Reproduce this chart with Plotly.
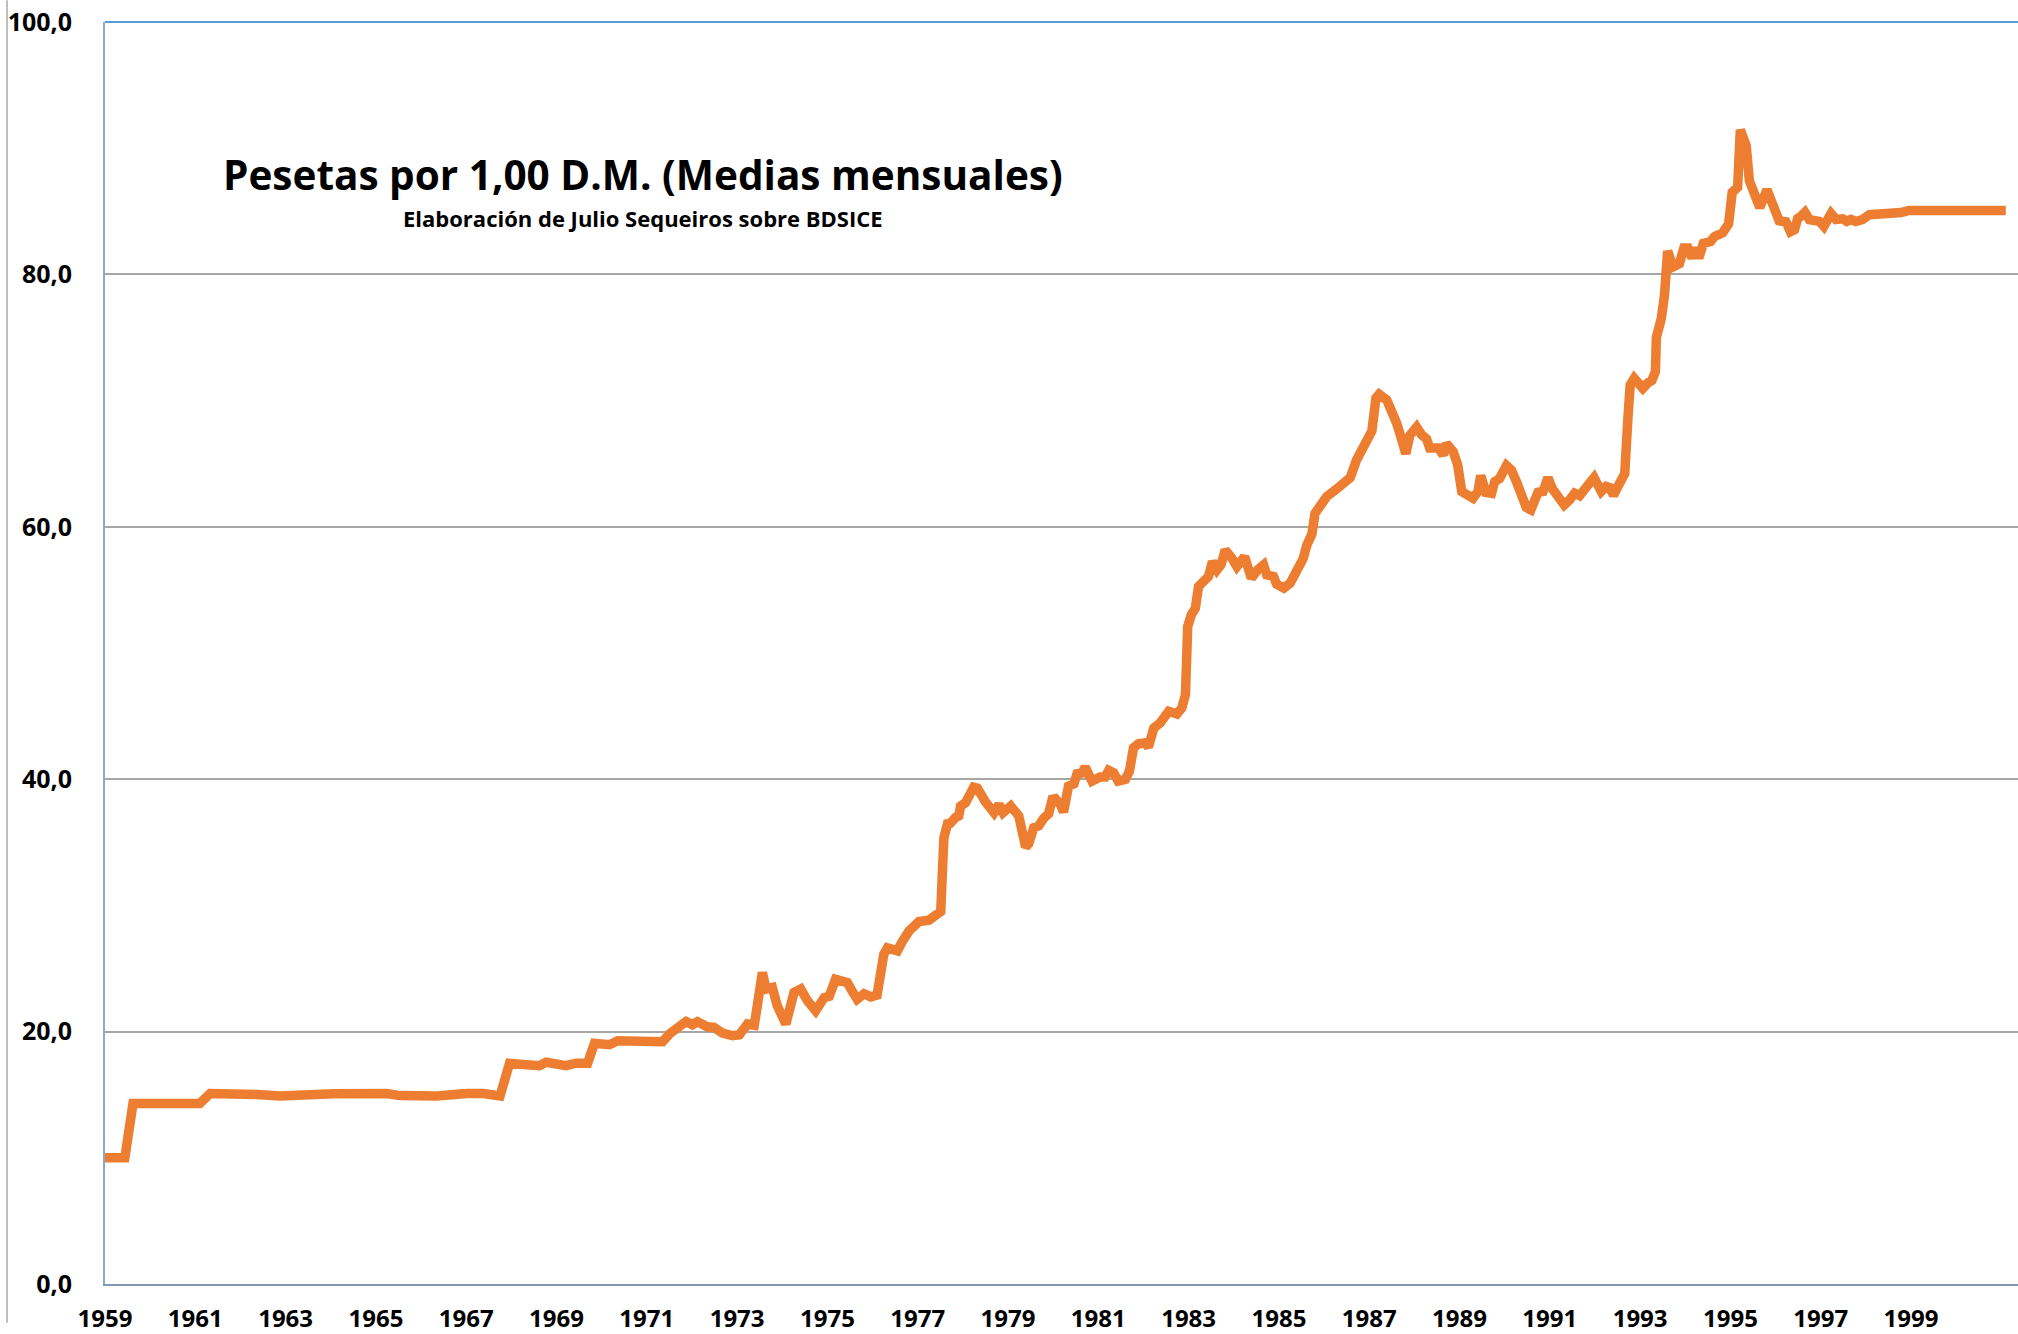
import plotly.graph_objects as go

# ---- data (decimal year, pesetas per 1 DM) ----
years = [
    1959.00, 1959.44, 1959.62, 1961.10, 1961.33, 1961.84, 1962.36, 1962.88, 1963.32,
    1964.06, 1965.24, 1965.53, 1966.35, 1966.64, 1967.01, 1967.38, 1967.75, 1967.96,
    1968.62, 1968.77, 1969.00, 1969.21, 1969.43, 1969.69, 1969.84, 1970.17, 1970.36,
    1970.91, 1970.98, 1971.35, 1971.50, 1971.72, 1971.87, 1972.01, 1972.12, 1972.34,
    1972.49, 1972.68, 1972.90, 1973.05, 1973.23, 1973.38, 1973.56, 1973.64, 1973.78,
    1973.89, 1974.08, 1974.26, 1974.41, 1974.56, 1974.74, 1974.93, 1975.04, 1975.18,
    1975.44, 1975.55, 1975.66, 1975.81, 1975.96, 1976.10, 1976.25, 1976.33, 1976.55,
    1976.66, 1976.81, 1977.03, 1977.25, 1977.51, 1977.58, 1977.66, 1977.72, 1977.84,
    1977.91, 1977.95, 1978.06, 1978.24, 1978.32, 1978.50, 1978.69, 1978.80, 1978.89,
    1979.06, 1979.24, 1979.39, 1979.46, 1979.57, 1979.68, 1979.79, 1979.90, 1979.98,
    1980.05, 1980.16, 1980.23, 1980.34, 1980.46, 1980.53, 1980.64, 1980.71, 1980.86,
    1981.04, 1981.15, 1981.23, 1981.34, 1981.44, 1981.60, 1981.69, 1981.78, 1981.89,
    1982.04, 1982.11, 1982.23, 1982.37, 1982.56, 1982.74, 1982.85, 1982.93, 1982.98,
    1983.06, 1983.15, 1983.22, 1983.33, 1983.44, 1983.53, 1983.63, 1983.72, 1983.81,
    1983.96, 1984.07, 1984.24, 1984.39, 1984.53, 1984.66, 1984.73, 1984.88, 1984.95,
    1985.11, 1985.25, 1985.39, 1985.54, 1985.62, 1985.73, 1985.80, 1985.91, 1986.06,
    1986.35, 1986.58, 1986.72, 1986.86, 1986.98, 1987.06, 1987.15, 1987.22, 1987.39,
    1987.50, 1987.61, 1987.72, 1987.81, 1987.90, 1988.05, 1988.16, 1988.27, 1988.34,
    1988.53, 1988.64, 1988.71, 1988.86, 1988.96, 1989.05, 1989.30, 1989.41, 1989.47,
    1989.58, 1989.71, 1989.78, 1989.89, 1990.04, 1990.15, 1990.26, 1990.37, 1990.48,
    1990.58, 1990.67, 1990.74, 1990.85, 1990.96, 1991.05, 1991.18, 1991.32, 1991.44,
    1991.55, 1991.66, 1991.77, 1991.88, 1991.98, 1992.14, 1992.25, 1992.33, 1992.41,
    1992.51, 1992.66, 1992.73, 1992.78, 1992.87, 1993.06, 1993.17, 1993.26, 1993.34,
    1993.36, 1993.47, 1993.54, 1993.61, 1993.73, 1993.87, 1993.97, 1994.06, 1994.15,
    1994.23, 1994.30, 1994.40, 1994.56, 1994.65, 1994.83, 1994.96, 1995.04, 1995.16,
    1995.22, 1995.29, 1995.35, 1995.42, 1995.53, 1995.65, 1995.81, 1995.94, 1996.08,
    1996.23, 1996.33, 1996.42, 1996.49, 1996.56, 1996.65, 1996.75, 1996.90, 1996.97,
    1997.07, 1997.16, 1997.23, 1997.34, 1997.49, 1997.58, 1997.67, 1997.78, 1997.93,
    1998.08, 1998.22, 1998.37, 1998.59, 1998.78, 1998.96, 2001.10,
]
pesetas = [
    10.0, 10.0, 14.3, 14.3, 15.1, 14.97, 15.02, 14.9, 15.02,
    15.08, 15.1, 14.93, 14.9, 15.02, 15.1, 15.1, 14.9, 17.48,
    17.3, 17.57, 17.5, 17.3, 17.5, 17.5, 19.07, 18.96, 19.28,
    19.25, 19.1, 19.2, 19.81, 20.54, 20.8, 20.54, 20.78, 20.38,
    20.33, 19.88, 19.67, 19.75, 20.6, 20.5, 24.68, 23.37, 23.5,
    22.05, 20.6, 23.1, 23.37, 22.44, 21.65, 22.7, 22.8, 24.15,
    23.88, 23.2, 22.57, 23.0, 22.75, 22.9, 26.13, 26.63, 26.4,
    27.14, 27.98, 28.72, 28.83, 29.51, 35.36, 36.47, 36.5, 36.97,
    37.1, 37.87, 38.13, 39.37, 39.3, 38.2, 37.35, 38.0, 37.35,
    37.87, 37.08, 34.63, 34.9, 36.16, 36.3, 36.9, 37.27, 38.4,
    38.45, 38.0, 37.4, 39.45, 39.64, 40.43, 40.5, 40.96, 39.85,
    40.17, 40.17, 40.7, 40.5, 39.85, 39.98, 40.64, 42.48, 42.8,
    42.88, 42.55, 44.06, 44.46, 45.38, 45.17, 45.65, 46.7, 52.1,
    53.03, 53.55, 55.27, 55.67, 56.06, 57.25, 56.59, 57.0, 58.17,
    57.5, 56.85, 57.64, 55.93, 56.59, 56.98, 56.19, 56.06, 55.45,
    55.14, 55.53, 56.32, 57.5, 58.56, 59.41, 61.07, 61.6, 62.4,
    63.2, 63.9, 65.3, 66.3, 67.3, 67.6, 70.2, 70.5, 70.04,
    69.25, 68.2, 66.9, 65.8, 67.25, 67.9, 67.3, 66.98, 66.24,
    66.24, 65.7, 66.6, 65.96, 64.9, 62.8, 62.26, 62.8, 64.06,
    62.74, 62.66, 63.58, 63.84, 64.85, 64.5, 63.58, 62.39, 61.53,
    61.34, 62.13, 62.74, 62.8, 63.89, 63.05, 62.39, 61.73, 62.13,
    62.66, 62.47, 63.05, 63.37, 63.9, 62.8, 63.2, 63.1, 62.5,
    63.2, 64.2, 68.6, 71.23, 71.76, 70.97, 71.4, 71.6, 72.3,
    75.0, 76.5, 78.35, 81.85, 80.6, 80.85, 82.1, 82.1, 81.3,
    82.1, 81.3, 82.45, 82.6, 83.0, 83.3, 84.0, 86.5, 86.9,
    91.46, 90.77, 90.2, 87.43, 86.6, 85.3, 86.7, 85.43, 84.25,
    84.17, 83.38, 83.54, 84.43, 84.6, 84.92, 84.33, 84.17, 84.2,
    83.8, 84.6, 84.82, 84.35, 84.4, 84.2, 84.35, 84.2, 84.35,
    84.73, 84.75, 84.93, 84.82, 84.9, 85.07, 85.07,
]

x_tick_years = list(range(1959, 2001, 2))
x_tick_labels = [str(y) for y in x_tick_years]
y_tick_values = [0, 20, 40, 60, 80, 100]
y_tick_labels = ["0,0", "20,0", "40,0", "60,0", "80,0", "100,0"]

title_text = "Pesetas por 1,00 D.M. (Medias mensuales)"
subtitle_text = "Elaboración de Julio Sequeiros sobre BDSICE"

W, H = 2018, 1334
ML, MR, MT, MB = 105, 0, 22, 39
PW, PH = W - ML - MR, H - MT - MB
PX_PER_YEAR = 45.15
x_end = 1959 + PW / PX_PER_YEAR

FONT = "Open Sans"
ORANGE = "#ED7D31"

fig = go.Figure()
fig.add_trace(go.Scatter(
    x=years, y=pesetas, mode="lines",
    line=dict(color=ORANGE, width=9.5),
    hoverinfo="skip", showlegend=False,
))

fig.update_layout(
    width=W, height=H,
    margin=dict(l=ML, r=MR, t=MT, b=MB, pad=0),
    paper_bgcolor="white", plot_bgcolor="white",
    showlegend=False,
    xaxis=dict(
        range=[1959, x_end], tickmode="array",
        tickvals=x_tick_years, ticktext=x_tick_labels,
        showgrid=False, zeroline=False,
        showline=True, linecolor="#8497B0", linewidth=2,
        ticks="", ticklabelstandoff=12,
        tickfont=dict(family=FONT, size=24, color="black", weight="bold"),
    ),
    yaxis=dict(
        range=[0, 100], tickmode="array",
        tickvals=y_tick_values, ticktext=y_tick_labels,
        showgrid=True, gridcolor="#A6A6A6", gridwidth=1.5,
        zeroline=False,
        showline=True, linecolor="#8EA9C8", linewidth=2,
        ticks="", ticklabelstandoff=26,
        tickfont=dict(family=FONT, size=25, color="black", weight="bold"),
    ),
    annotations=[
        dict(text=title_text, xref="paper", yref="paper",
             x=(643 - ML) / PW, y=(H - MB - 176) / PH,
             xanchor="center", yanchor="middle", showarrow=False,
             font=dict(family=FONT, size=40.5, color="black", weight="bold")),
        dict(text=subtitle_text, xref="paper", yref="paper",
             x=(643 - ML) / PW, y=(H - MB - 220) / PH,
             xanchor="center", yanchor="middle", showarrow=False,
             font=dict(family=FONT, size=22, color="black", weight="bold")),
    ],
    shapes=[
        # top border of plot area
        dict(type="line", xref="paper", yref="paper", x0=0, x1=1, y0=1, y1=1,
             line=dict(color="#5B9BD5", width=2), layer="above"),
        # chart-area left border
        dict(type="line", xref="paper", yref="paper",
             x0=-(ML - 7) / PW, x1=-(ML - 7) / PW,
             y0=-MB / PH, y1=(PH + MT) / PH,
             line=dict(color="#BFBFBF", width=2), layer="above"),
    ],
)

fig.write_html("out.html", config={"displayModeBar": False},
               post_script="document.body.style.margin='0';")
